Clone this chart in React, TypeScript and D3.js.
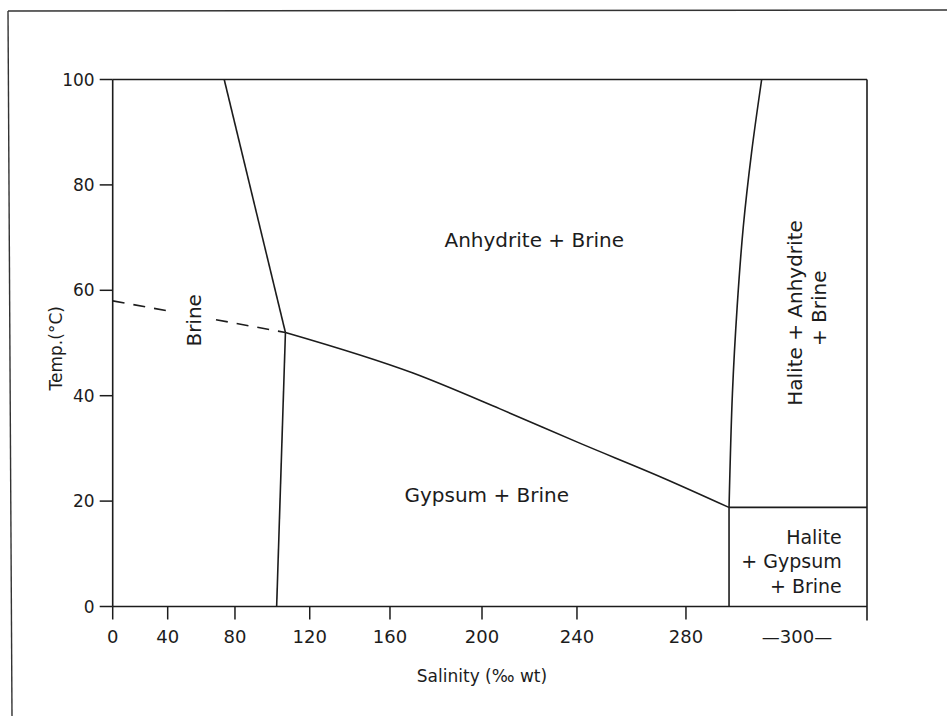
import React from 'react';
import * as d3 from 'd3';

// axis ticks
const xTicks = [0, 40, 80, 120, 160, 200, 240, 280];
const yTicks = [0, 20, 40, 60, 80, 100];

// salinity breakpoints of the (non linear) x axis
const xBreaks = [0, 40, 80, 120, 160, 200, 240, 280, 290, 300, 310];
const xBreakFrac = [0, 0.0729, 0.1621, 0.2612, 0.3676, 0.4896, 0.6155, 0.76, 0.8171, 0.9072, 1];

// phase boundaries as [salinity, temp]
const gypsumAnhydrite = [[107, 52], [170, 44.3], [207.6, 37.5], [241, 31], [271.6, 24.4], [290, 18.8]];
const anhydriteSolubility = [[73.6, 100], [107, 52]];
const gypsumSolubility = [[107, 52], [102.3, 0]];
const metastable = [[0, 58], [107, 52]];
const haliteSaturation = [[294.8, 100], [293.3, 86], [292.1, 72.1], [291.2, 57], [290.5, 40.5], [290, 18.8]];
const haliteLower = [[290, 18.8], [290, 0]];
const haliteTransition = [[290, 18.8], [310, 18.8]];

const W = 947;
const H = 716;
const margin = { top: 79.5, right: 80, bottom: 109.5, left: 112.7 };
const font = '"DejaVu Sans", sans-serif';
const ink = '#1c1c1c';

const App: React.FC = () => {
    const innerW = W - margin.left - margin.right;
    const innerH = H - margin.top - margin.bottom;

    const x = d3.scaleLinear()
        .domain(xBreaks)
        .range(xBreakFrac.map(f => margin.left + f * innerW));
    const y = d3.scaleLinear()
        .domain([0, 100])
        .range([margin.top + innerH, margin.top]);

    const line = d3.line<number[]>().x(d => x(d[0])).y(d => y(d[1]));
    const smoothX = d3.line<number[]>().x(d => x(d[0])).y(d => y(d[1])).curve(d3.curveMonotoneX);
    const smooth = d3.line<number[]>().x(d => x(d[0])).y(d => y(d[1])).curve(d3.curveCatmullRom);

    const x0 = x(0), x1 = x(310), yTop = y(100), yBot = y(0);
    const brineX = x(55.5), brineY = y(54.3);

    return (
        <svg width={W} height={H} style={{ position: 'absolute', left: 0, top: 0, background: '#fff' }}
            fontFamily={font} fill={ink}>
            {/* scanned page frame */}
            <line x1={8} y1={11} x2={W} y2={10} stroke="#333" strokeWidth={1.4} />
            <line x1={8} y1={11} x2={12} y2={H} stroke="#333" strokeWidth={1.4} />

            {/* plot frame */}
            <g stroke={ink} strokeWidth={1.6} fill="none">
                <line x1={x0} y1={yTop} x2={x1} y2={yTop} />
                <line x1={x0} y1={yTop} x2={x0} y2={yBot} />
                <line x1={x0} y1={yBot} x2={x1} y2={yBot} />
                <line x1={x1} y1={yTop} x2={x1} y2={yBot + 14} />
            </g>

            {/* y axis */}
            {yTicks.map(t => (
                <g key={'y' + t}>
                    <line x1={x0 - 13} x2={x0} y1={y(t)} y2={y(t)} stroke={ink} strokeWidth={1.5} />
                    <text x={x0 - 18} y={y(t)} textAnchor="end" dominantBaseline="central" fontSize={17}>{t}</text>
                </g>
            ))}

            {/* x axis */}
            {xTicks.map(t => (
                <g key={'x' + t}>
                    <line x1={x(t)} x2={x(t)} y1={yBot} y2={yBot + 13} stroke={ink} strokeWidth={1.5} />
                    <text x={x(t)} y={yBot + 36} textAnchor="middle" fontSize={18}>{t}</text>
                </g>
            ))}
            <text x={x(300)} y={yBot + 36} textAnchor="middle" fontSize={18}>—300—</text>

            <text x={x(200)} y={yBot + 75} textAnchor="middle" fontSize={17}>Salinity (‰ wt)</text>
            <text transform={`translate(56,${y(49)}) rotate(-90)`} textAnchor="middle" dominantBaseline="central" fontSize={17}>Temp.(°C)</text>

            {/* phase boundaries */}
            <g stroke={ink} strokeWidth={1.6} fill="none">
                <path d={smoothX(gypsumAnhydrite) || ''} />
                <path d={line(anhydriteSolubility) || ''} />
                <path d={line(gypsumSolubility) || ''} />
                <path d={line(metastable) || ''} strokeDasharray="12,9" />
                <path d={smooth(haliteSaturation) || ''} />
                <path d={line(haliteLower) || ''} />
                <path d={line(haliteTransition) || ''} />
            </g>

            {/* gap in the dashed line behind the Brine label */}
            <rect x={brineX - 26} y={brineY - 30} width={44} height={60} fill="#fff" />

            {/* field labels */}
            <g fontSize={20}>
                <text x={x(222)} y={y(68.2)} textAnchor="middle">Anhydrite + Brine</text>
                <text x={x(202)} y={y(19.9)} textAnchor="middle">Gypsum + Brine</text>
                <text transform={`translate(${brineX},${brineY}) rotate(-90)`} textAnchor="middle" dominantBaseline="central">Brine</text>
                <text transform={`translate(${x(299.7)},${y(55.7)}) rotate(-90)`} textAnchor="middle" dominantBaseline="central">Halite + Anhydrite</text>
                <text transform={`translate(${x(303.2)},${y(56.6)}) rotate(-90)`} textAnchor="middle" dominantBaseline="central">+ Brine</text>
            </g>
            <g fontSize={19}>
                <text x={x(306.4)} y={y(11.9)} textAnchor="end">Halite</text>
                <text x={x(306.4)} y={y(7.4)} textAnchor="end">+ Gypsum</text>
                <text x={x(306.4)} y={y(2.6)} textAnchor="end">+ Brine</text>
            </g>
        </svg>
    );
};

export default App;
